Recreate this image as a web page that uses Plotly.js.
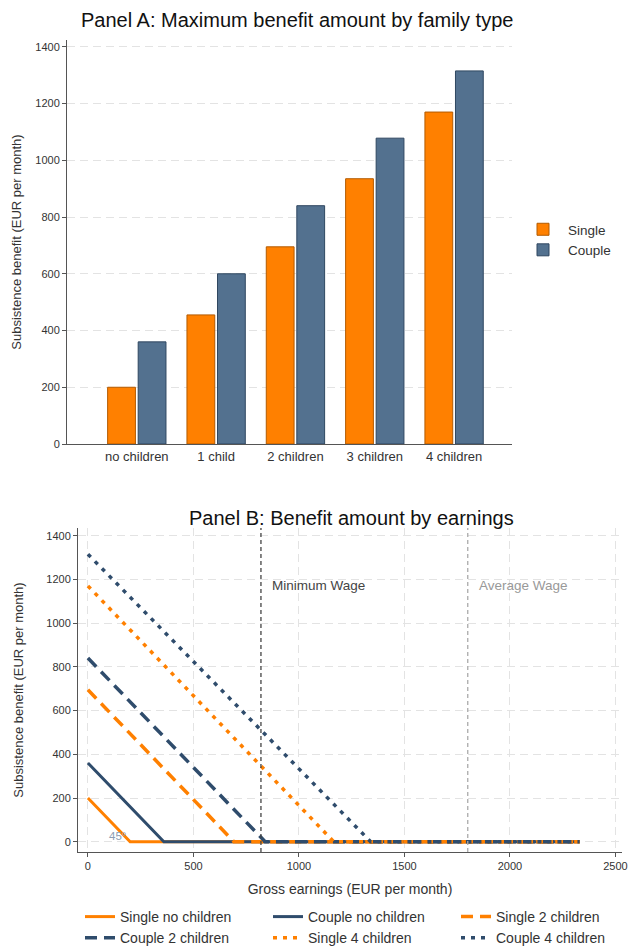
<!DOCTYPE html>
<html>
<head>
<meta charset="utf-8">
<script src="https://cdn.plot.ly/plotly-3.0.1.min.js"></script>
<style>
  html, body { margin: 0; padding: 0; background: #fff; }
  #chart { width: 629px; height: 951px; }
</style>
</head>
<body>
<div id="chart"></div>
<script>
// Panel A: maximum monthly benefit by family type
const familyTypes = ['no children', '1 child', '2 children', '3 children', '4 children'];
const singleMax = [200, 455, 695, 935, 1170];
const coupleMax = [360, 600, 840, 1078, 1315];

// Panel B: benefit schedules by gross earnings (start, phase-out point, end of range)
const earnSingleNone = [0, 200, 2330];
const benSingleNone = [200, 0, 0];
const earnCoupleNone = [0, 360, 2330];
const benCoupleNone = [360, 0, 0];
const earnSingle2 = [0, 692, 2330];
const benSingle2 = [695, 0, 0];
const earnCouple2 = [0, 840, 2330];
const benCouple2 = [840, 0, 0];
const earnSingle4 = [0, 1165, 2330];
const benSingle4 = [1170, 0, 0];
const earnCouple4 = [0, 1340, 2330];
const benCouple4 = [1315, 0, 0];

const minimumWage = 820;
const averageWage = 1800;

const ORANGE = '#ff8000';
const NAVY_BAR = '#53718f';
const NAVY_LINE = '#2f4c6c';
const FONT = 'Liberation Sans, Arial, sans-serif';

const traces = [
  {
    type: 'bar', name: 'Single', x: familyTypes, y: singleMax,
    xaxis: 'x', yaxis: 'y', legend: 'legend',
    marker: { color: ORANGE, line: { color: '#b35a00', width: 1 } },
    hoverinfo: 'skip'
  },
  {
    type: 'bar', name: 'Couple', x: familyTypes, y: coupleMax,
    xaxis: 'x', yaxis: 'y', legend: 'legend',
    marker: { color: NAVY_BAR, line: { color: '#2f4760', width: 1 } },
    hoverinfo: 'skip'
  },
  {
    type: 'scatter', mode: 'lines', name: 'Single no children',
    x: earnSingleNone, y: benSingleNone, xaxis: 'x2', yaxis: 'y2', legend: 'legend2',
    line: { color: ORANGE, width: 3 }
  },
  {
    type: 'scatter', mode: 'lines', name: 'Couple no children',
    x: earnCoupleNone, y: benCoupleNone, xaxis: 'x2', yaxis: 'y2', legend: 'legend2',
    line: { color: NAVY_LINE, width: 3 }
  },
  {
    type: 'scatter', mode: 'lines', name: 'Single 2 children',
    x: earnSingle2, y: benSingle2, xaxis: 'x2', yaxis: 'y2', legend: 'legend2',
    line: { color: ORANGE, width: 3.5, dash: '12px,7px' }
  },
  {
    type: 'scatter', mode: 'lines', name: 'Couple 2 children',
    x: earnCouple2, y: benCouple2, xaxis: 'x2', yaxis: 'y2', legend: 'legend2',
    line: { color: NAVY_LINE, width: 3.5, dash: '12px,7px' }
  },
  {
    type: 'scatter', mode: 'lines', name: 'Single 4 children',
    x: earnSingle4, y: benSingle4, xaxis: 'x2', yaxis: 'y2', legend: 'legend2',
    line: { color: ORANGE, width: 3.5, dash: '4px,6px' }
  },
  {
    type: 'scatter', mode: 'lines', name: 'Couple 4 children',
    x: earnCouple4, y: benCouple4, xaxis: 'x2', yaxis: 'y2', legend: 'legend2',
    line: { color: NAVY_LINE, width: 3.5, dash: '4px,6px' }
  }
];

const gridColor = '#e3e3e3';
const axisCommon = {
  showline: true, linecolor: '#555', linewidth: 1,
  ticks: 'outside', ticklen: 4, tickcolor: '#555', tickwidth: 1,
  tickfont: { family: FONT, size: 11, color: '#333' },
  zeroline: false, fixedrange: true
};

const layout = {
  width: 629, height: 951,
  margin: { l: 0, r: 0, t: 0, b: 0, autoexpand: false },
  paper_bgcolor: '#fff', plot_bgcolor: '#fff',
  font: { family: FONT, color: '#222' },
  showlegend: true,
  barmode: 'group', bargap: 0.23, bargroupgap: 0.09,

  xaxis: Object.assign({}, axisCommon, {
    domain: [67 / 629, 512 / 629], anchor: 'y',
    type: 'category', range: [-0.88, 4.73],
    ticks: '', showgrid: false,
    tickfont: { family: FONT, size: 13, color: '#333' }
  }),
  yaxis: Object.assign({}, axisCommon, {
    domain: [1 - 444 / 951, 1 - 40 / 951], anchor: 'x',
    range: [0, 1424], tickvals: [0, 200, 400, 600, 800, 1000, 1200, 1400],
    showgrid: true, gridcolor: gridColor, griddash: '8px,5px', gridwidth: 1,
    title: { text: 'Subsistence benefit (EUR per month)', standoff: 10,
             font: { family: FONT, size: 13, color: '#333' } }
  }),

  xaxis2: Object.assign({}, axisCommon, {
    domain: [78 / 629, 622 / 629], anchor: 'y2',
    range: [-47, 2531], tickvals: [0, 500, 1000, 1500, 2000, 2500],
    showgrid: true, gridcolor: gridColor, griddash: '8px,5px', gridwidth: 1,
    title: { text: 'Gross earnings (EUR per month)', standoff: 12,
             font: { family: FONT, size: 14, color: '#333' } }
  }),
  yaxis2: Object.assign({}, axisCommon, {
    domain: [1 - 852 / 951, 1 - 528 / 951], anchor: 'x2',
    range: [-47, 1435], tickvals: [0, 200, 400, 600, 800, 1000, 1200, 1400],
    showgrid: true, gridcolor: gridColor, griddash: '8px,5px', gridwidth: 1,
    title: { text: 'Subsistence benefit (EUR per month)', standoff: 19,
             font: { family: FONT, size: 13, color: '#333' } }
  }),

  legend: {
    x: 518 / 629, xanchor: 'left', y: 1 - 240 / 951, yanchor: 'middle',
    font: { family: FONT, size: 13.5, color: '#333' },
    bgcolor: 'rgba(0,0,0,0)', tracegroupgap: 4, itemwidth: 40
  },
  legend2: {
    orientation: 'h', x: 80 / 629, xanchor: 'left', y: 1 - 901 / 951, yanchor: 'top',
    entrywidth: 143, entrywidthmode: 'pixels',
    font: { family: FONT, size: 14, color: '#333' },
    bgcolor: 'rgba(0,0,0,0)'
  },

  shapes: [
    { type: 'line', xref: 'x2', yref: 'y2 domain', x0: minimumWage, x1: minimumWage, y0: 0, y1: 1,
      line: { color: '#444', width: 1.3, dash: '4px,3px' } },
    { type: 'line', xref: 'x2', yref: 'y2 domain', x0: averageWage, x1: averageWage, y0: 0, y1: 1,
      line: { color: '#aaa', width: 1.3, dash: '4px,3px' } }
  ],

  annotations: [
    { text: 'Panel A: Maximum benefit amount by family type', xref: 'paper', yref: 'paper',
      x: 297 / 629, y: 1 - 20 / 951, xanchor: 'center', yanchor: 'middle', showarrow: false,
      font: { family: FONT, size: 20, color: '#111' } },
    { text: 'Panel B: Benefit amount by earnings', xref: 'paper', yref: 'paper',
      x: 351 / 629, y: 1 - 518 / 951, xanchor: 'center', yanchor: 'middle', showarrow: false,
      font: { family: FONT, size: 20, color: '#111' } },
    { text: 'Minimum Wage', xref: 'x2', yref: 'y2', x: minimumWage + 45, y: 1170,
      xanchor: 'left', yanchor: 'middle', showarrow: false,
      font: { family: FONT, size: 13.5, color: '#444' } },
    { text: 'Average Wage', xref: 'x2', yref: 'y2', x: averageWage + 45, y: 1170,
      xanchor: 'left', yanchor: 'middle', showarrow: false,
      font: { family: FONT, size: 13.5, color: '#999' } },
    { text: '45°', xref: 'x2', yref: 'y2', x: 142, y: 28,
      xanchor: 'center', yanchor: 'middle', showarrow: false,
      font: { family: FONT, size: 11.5, color: '#8c9db3' } }
  ]
};

Plotly.newPlot('chart', traces, layout, { staticPlot: true, displayModeBar: false });
</script>
</body>
</html>
